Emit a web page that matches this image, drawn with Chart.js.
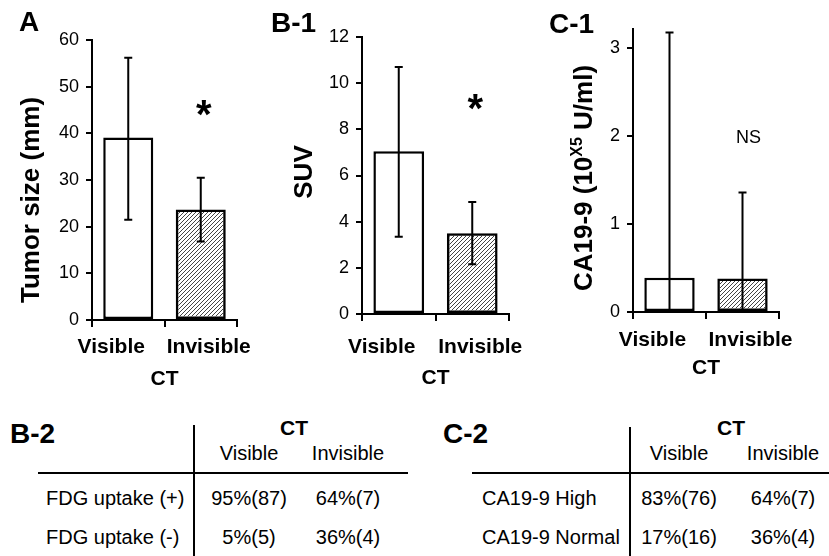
<!DOCTYPE html>
<html>
<head>
<meta charset="utf-8">
<script src="https://cdn.jsdelivr.net/npm/chart.js@4.4.0/dist/chart.umd.min.js"></script>
<style>
  body { margin: 0; background: #fff; font-family: "Liberation Sans", Arial, sans-serif; color: #000; }
  #wrap { position: relative; width: 829px; height: 556px; overflow: hidden; }
  canvas { position: absolute; top: 0; }
  .letter { position: absolute; font-weight: bold; font-size: 28px; line-height: 1; transform: translateY(-50%); }
  .t { position: absolute; font-size: 20px; line-height: 1; white-space: nowrap; transform: translate(-50%, -50%); }
  .t.left { transform: translate(0, -50%); }
  .t.bold { font-weight: bold; font-size: 21px; }
  .hline, .vline { position: absolute; background: #000; }
</style>
</head>
<body>
<div id="wrap">
  <canvas id="chartA" width="270" height="400" style="left:0"></canvas>
  <canvas id="chartB" width="270" height="400" style="left:270px"></canvas>
  <canvas id="chartC" width="289" height="400" style="left:540px"></canvas>
  <div class="letter" style="left:19px;top:22px">A</div>
  <div class="letter" style="left:271px;top:23px">B-1</div>
  <div class="letter" style="left:549px;top:24px">C-1</div>
  <div class="letter" style="left:10px;top:434px">B-2</div>
  <div class="letter" style="left:443px;top:434px">C-2</div>
  <div id="tables"></div>
</div>
<script>
// 類別與數值
const categories = ['Visible', 'Invisible'];

const tumorTicks = [0, 10, 20, 30, 40, 50, 60];
const tumorMean = [39.1, 23.7];
const tumorLow = [21.5, 16.8];
const tumorHigh = [56.2, 30.5];
const tumorSig = ['', '*'];
const tumorSigAt = [null, 43.6];

const suvTicks = [0, 2, 4, 6, 8, 10, 12];
const suvMean = [7.05, 3.5];
const suvLow = [3.35, 2.15];
const suvHigh = [10.7, 4.85];
const suvSig = ['', '*'];
const suvSigAt = [null, 8.8];

const caTicks = [0, 1, 2, 3];
const caMax = 3.22;
const caMean = [0.39, 0.38];
const caLow = [0, 0];
const caHigh = [3.18, 1.36];
const caSig = ['', 'NS'];
const caSigAt = [null, 1.98];

// 表格內容
const tableCols = ['Visible', 'Invisible'];
const fdgRows = ['FDG uptake (+)', 'FDG uptake (-)'];
const fdgCells = [['95%(87)', '64%(7)'], ['5%(5)', '36%(4)']];
const caRows = ['CA19-9 High', 'CA19-9 Normal'];
const caCells = [['83%(76)', '64%(7)'], ['17%(16)', '36%(4)']];

const FONT = '"Liberation Sans", Arial, sans-serif';

// 斜線填充
function makeHatch() {
  const tile = document.createElement('canvas');
  tile.width = 4; tile.height = 4;
  const c = tile.getContext('2d');
  c.strokeStyle = '#444';
  c.lineWidth = 1;
  c.beginPath();
  c.moveTo(0, 4); c.lineTo(4, 0);
  c.moveTo(-1, 1); c.lineTo(1, -1);
  c.moveTo(3, 5); c.lineTo(5, 3);
  c.stroke();
  return tile.getContext('2d').createPattern(tile, 'repeat');
}
const hatch = makeHatch();

// 誤差線、標記、軸標籤
const panelPlugin = {
  id: 'panel',
  afterDatasetsDraw(chart, args, o) {
    const { ctx, chartArea } = chart;
    const xs = chart.scales.x, ys = chart.scales.y;
    const meta = chart.getDatasetMeta(0);
    ctx.save();
    ctx.strokeStyle = '#000';
    ctx.lineWidth = 2;
    meta.data.forEach((bar, i) => {
      const top = ys.getPixelForValue(o.high[i]);
      const bot = ys.getPixelForValue(o.low[i]);
      ctx.beginPath();
      ctx.moveTo(bar.x, top); ctx.lineTo(bar.x, bot);
      ctx.moveTo(bar.x - 4, top); ctx.lineTo(bar.x + 4, top);
      if (o.low[i] > ys.min) { ctx.moveTo(bar.x - 4, bot); ctx.lineTo(bar.x + 4, bot); }
      ctx.stroke();
    });

    ctx.fillStyle = '#000';
    ctx.textAlign = 'center';
    ctx.textBaseline = 'middle';
    o.sig.forEach((s, i) => {
      if (!s) return;
      ctx.font = s === '*' ? `bold 40px ${FONT}` : `18px ${FONT}`;
      ctx.fillText(s, xs.getPixelForValue(i) + (s === '*' ? 3 : 6), ys.getPixelForValue(o.sigAt[i]));
    });

    ctx.font = `bold 21px ${FONT}`;
    categories.forEach((c, i) => {
      ctx.fillText(c, xs.getPixelForValue(i) + o.labelShift[i], chartArea.bottom + o.labelGap);
    });
    ctx.fillText('CT', (chartArea.left + chartArea.right) / 2, chartArea.bottom + o.ctGap);

    // 縱軸標題（可含上標）
    ctx.translate(o.titleX, o.titleY);
    ctx.rotate(-Math.PI / 2);
    const big = `bold ${o.titleSize}px ${FONT}`;
    const small = `bold ${Math.round(o.titleSize * 0.6)}px ${FONT}`;
    let total = 0;
    o.title.forEach(([t, sup]) => { ctx.font = sup ? small : big; total += ctx.measureText(t).width; });
    let px = -total / 2;
    ctx.textAlign = 'left';
    o.title.forEach(([t, sup]) => {
      ctx.font = sup ? small : big;
      ctx.fillText(t, px, sup ? -o.titleSize * 0.3 : 0);
      px += ctx.measureText(t).width;
    });
    ctx.restore();
  }
};

function makePanel(id, p) {
  return new Chart(document.getElementById(id), {
    type: 'bar',
    data: {
      labels: categories,
      datasets: [{
        data: p.mean,
        backgroundColor: ['#fff', hatch],
        borderColor: '#000',
        borderWidth: 2.5,
        borderSkipped: false,
        barPercentage: 0.69,
        categoryPercentage: 1
      }]
    },
    options: {
      responsive: false,
      animation: false,
      layout: { padding: { top: p.top, right: p.right, bottom: 0, left: 0 } },
      plugins: {
        legend: { display: false },
        tooltip: { enabled: false },
        panel: {
          low: p.low, high: p.high, sig: p.sig, sigAt: p.sigAt,
          labelShift: [-17, 8], labelGap: p.labelGap, ctGap: p.ctGap,
          title: p.title, titleX: p.titleX, titleY: p.titleY, titleSize: 26
        }
      },
      scales: {
        x: {
          ticks: { display: false },
          grid: { offset: true, drawOnChartArea: false, drawTicks: true, tickLength: 7, color: '#000', lineWidth: 2 },
          border: { color: '#000', width: 2 },
          afterFit: s => { s.height = 400 - p.bottom; }
        },
        y: {
          min: 0,
          max: p.max,
          afterBuildTicks: s => { s.ticks = p.ticks.map(v => ({ value: v })); },
          ticks: { color: '#000', padding: 7, font: { size: 18, family: FONT } },
          grid: { drawOnChartArea: false, drawTicks: true, tickLength: 6, color: '#000', lineWidth: 2 },
          border: { color: '#000', width: 2 },
          afterFit: s => { s.width = p.axisX; }
        }
      }
    },
    plugins: [panelPlugin]
  });
}

makePanel('chartA', {
  mean: tumorMean, low: tumorLow, high: tumorHigh, sig: tumorSig, sigAt: tumorSigAt,
  ticks: tumorTicks, max: 60, top: 40, bottom: 320, axisX: 92, right: 33,
  labelGap: 27, ctGap: 59, title: [['Tumor size (mm)', false]], titleX: 32, titleY: 200
});
makePanel('chartB', {
  mean: suvMean, low: suvLow, high: suvHigh, sig: suvSig, sigAt: suvSigAt,
  ticks: suvTicks, max: 12, top: 37, bottom: 314, axisX: 92, right: 31,
  labelGap: 33, ctGap: 64, title: [['SUV', false]], titleX: 35, titleY: 172
});
makePanel('chartC', {
  mean: caMean, low: caLow, high: caHigh, sig: caSig, sigAt: caSigAt,
  ticks: caTicks, max: caMax, top: 29, bottom: 312, axisX: 93, right: 50,
  labelGap: 28, ctGap: 56, title: [['CA19-9 (10', false], ['X5', true], [' U/ml)', false]], titleX: 45, titleY: 178
});

// 下方兩個表格
function addText(text, x, y, cls) {
  const d = document.createElement('div');
  d.className = 't ' + (cls || '');
  d.textContent = text;
  d.style.left = x + 'px';
  d.style.top = y + 'px';
  document.getElementById('tables').appendChild(d);
}
function addLine(cls, x, y, w, h) {
  const d = document.createElement('div');
  d.className = cls;
  Object.assign(d.style, { left: x + 'px', top: y + 'px', width: w + 'px', height: h + 'px' });
  document.getElementById('tables').appendChild(d);
}
function makeTable(t) {
  addLine('hline', t.lineLeft, 472, t.lineRight - t.lineLeft, 2);
  addLine('vline', t.divX, t.divTop, 2, 556 - t.divTop);
  addText('CT', t.ctX, 427, 'bold');
  tableCols.forEach((c, j) => addText(c, t.colX[j], 453));
  t.rows.forEach((r, i) => {
    addText(r, t.rowX, t.rowY[i], 'left');
    t.cells[i].forEach((v, j) => addText(v, t.colX[j], t.rowY[i]));
  });
}
makeTable({ rows: fdgRows, cells: fdgCells, lineLeft: 38, lineRight: 408, divX: 193, divTop: 425,
  ctX: 294, colX: [249, 348], rowX: 46, rowY: [498, 537] });
makeTable({ rows: caRows, cells: caCells, lineLeft: 472, lineRight: 829, divX: 629, divTop: 427,
  ctX: 731, colX: [679, 783], rowX: 482, rowY: [498, 537] });
</script>
</body>
</html>
